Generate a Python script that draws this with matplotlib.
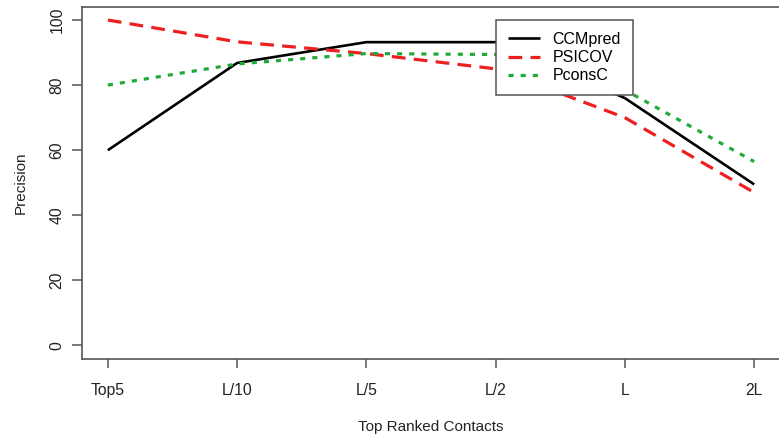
import matplotlib
matplotlib.use('Agg')

import matplotlib.pyplot as plt
import numpy as np

# categories along the x axis
categories = ['Top5', 'L/10', 'L/5', 'L/2', 'L', '2L']

# precision values
ccmpred = [60.0, 86.8, 93.2, 93.2, 76.0, 49.5]
psicov = [100.0, 93.3, 89.7, 85.0, 70.0, 47.0]
pconsc = [80.0, 86.5, 89.7, 89.4, 78.5, 56.5]

yticks = [0, 20, 40, 60, 80, 100]

plt.rcParams['font.family'] = ['Liberation Sans', 'DejaVu Sans']

fig = plt.figure(figsize=(7.79, 4.38), dpi=100)
ax = fig.add_axes([82 / 779, 1 - 358.5 / 438, 698 / 779, 351.5 / 438])

x = np.arange(1, len(categories) + 1)

line1, = ax.plot(x, ccmpred, color='black', lw=1.9, solid_capstyle='butt')
line2, = ax.plot(x, psicov, color='#ee1f1f', lw=2.3, dashes=(4.3, 2.6))
line3, = ax.plot(x, pconsc, color='#1faa3a', lw=2.3, dashes=(1.6, 2.2))

ax.set_xlim(0.8, 6.2)
ax.set_ylim(-4, 104)

ax.set_xticks(x)
ax.set_xticklabels(categories)
ax.set_yticks(yticks)
ax.set_yticklabels([str(v) for v in yticks], rotation=90, va='center')

for side in ['left', 'right', 'top', 'bottom']:
    ax.spines[side].set_color('#555555')
    ax.spines[side].set_linewidth(1.2)

ax.tick_params(axis='x', length=6.5, width=1.1, color='#555555',
               labelsize=11.3, pad=11, labelcolor='#222222')
ax.tick_params(axis='y', length=7.5, width=1.1, color='#555555',
               labelsize=11.3, pad=5, labelcolor='#222222')

ax.set_xlabel('Top Ranked Contacts', fontsize=11, color='#222222', labelpad=16)
ax.set_ylabel('Precision', fontsize=11, color='#222222', labelpad=16)

leg = ax.legend((line1, line2, line3), ('CCMpred', 'PSICOV', 'PconsC'),
                loc='upper left', bbox_to_anchor=(496 / 779, 1 - 20 / 438),
                bbox_transform=fig.transFigure, fontsize=11.5,
                frameon=True, fancybox=False, framealpha=1,
                handlelength=2.0, handletextpad=0.8, borderpad=0.75,
                labelspacing=0.2, borderaxespad=0)
leg.get_frame().set_edgecolor('#555555')
leg.get_frame().set_linewidth(1.1)

plt.savefig('out.png', dpi=100)
plt.close()
